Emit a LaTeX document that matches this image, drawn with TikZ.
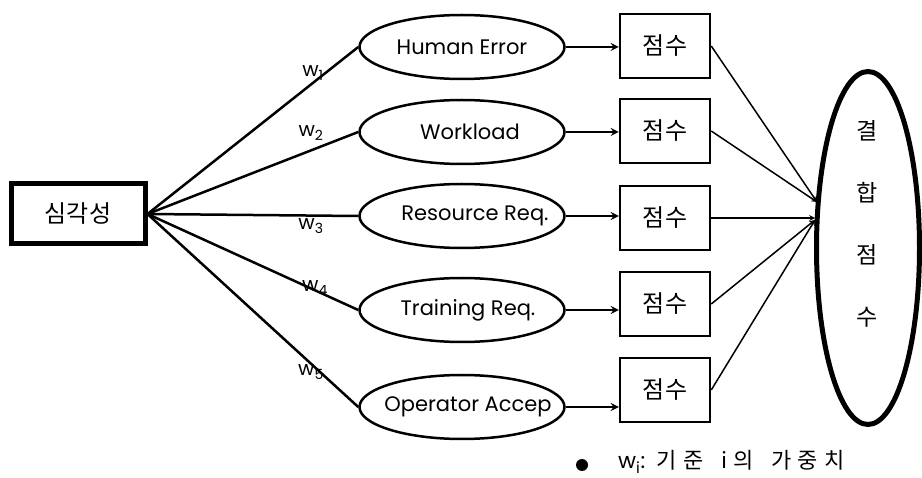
\documentclass[tikz,border=0pt]{standalone}
\usepackage{fontspec}
\setmainfont{Poppins}
\newfontfamily\kor{Noto Sans CJK KR}
\newfontfamily\korsp[LetterSpace=28,WordSpace=1.6]{Noto Sans CJK KR}
\usetikzlibrary{shapes.geometric}

\begin{document}
\begin{tikzpicture}[x=1pt,y=-1pt,
		crit/.style={draw,ellipse,line width=2.5pt,minimum width=205pt,minimum height=64pt,inner sep=0pt,font=\fontsize{21}{25}\selectfont},
		score/.style={draw,line width=2.5pt,minimum width=90pt,minimum height=64pt,inner sep=0pt,font=\kor\fontsize{24}{28}\selectfont},
		wlab/.style={inner sep=0pt,font=\fontsize{20}{24}\selectfont},
		link/.style={line width=2.5pt},
		sarrow/.style={line width=2.5pt,-stealth},
		carrow/.style={line width=1.5pt,-stealth}]
		\useasboundingbox (0,0) rectangle (922,478);
		\node[draw,line width=5pt,minimum width=134pt,minimum height=60pt,font=\kor\fontsize{24}{28}\selectfont] (sim) at (78,214) {심각성};
		\node[crit] (he) at (462,47) {\makebox[0pt]{Human Error}};
		\node[crit] (wl) at (462,132) {\makebox[0pt]{\hspace{16pt}Workload}};
		\node[crit] (rr) at (462,216) {\makebox[0pt]{\hspace{26pt}Resource Req.}};
		\node[crit] (tr) at (462,310) {\makebox[0pt]{\hspace{12pt}Training Req.}};
		\node[crit] (oa) at (462,407) {\makebox[0pt]{\hspace{12pt}Operator Accep}};
		\node[score] (s1) at (665,46) {점수};
		\node[score] (s2) at (665,131) {점수};
		\node[score] (s3) at (665,218) {점수};
		\node[score] (s4) at (665,304) {점수};
		\node[score] (s5) at (665,390) {점수};
		\node[draw,ellipse,line width=5pt,minimum width=103pt,minimum height=353pt,inner sep=0pt] (comb) at (868,248) {};
		\node[align=center,inner sep=0pt,font=\kor\fontsize{23}{27}\selectfont] (combtxt) at (867,224) {결\\[35pt]합\\[35pt]점\\[35pt]수};
		\coordinate (in1) at (817,202);
		\coordinate (in2) at (815,220);
		\draw[link] (sim.east) -- (he.west);
		\draw[link] (sim.east) -- (wl.west);
		\draw[link] (sim.east) -- (rr.west);
		\draw[link] (sim.east) -- (tr.west);
		\draw[link] (sim.east) -- (oa.west);
		\node[wlab] (w1) at (313,73) {w\textsubscript{1}};
		\node[wlab] (w2) at (311,133) {w\textsubscript{2}};
		\node[wlab] (w3) at (311,226) {w\textsubscript{3}};
		\node[wlab] (w4) at (315,288) {w\textsubscript{4}};
		\node[wlab] (w5) at (311,372) {w\textsubscript{5}};
		\draw[sarrow] (he.east) -- (he.east -| s1.west);
		\draw[sarrow] (wl.east) -- (wl.east -| s2.west);
		\draw[sarrow] (rr.east) -- (rr.east -| s3.west);
		\draw[sarrow] (tr.east) -- (tr.east -| s4.west);
		\draw[sarrow] (oa.east) -- (oa.east -| s5.west);
		\draw[carrow] (s1.east) -- (in1);
		\draw[carrow] (s2.east) -- (in1);
		\draw[carrow] (s3.east) -- (s3.east -| in2);
		\draw[carrow] (s4.east) -- (in2);
		\draw[carrow] (s5.east) -- (in2);
		\node[circle,fill,inner sep=0pt,minimum size=12pt] (dot) at (582,465) {};
		\node[anchor=west,inner sep=0pt,font=\fontsize{22}{26}\selectfont] (legend) at (618,462) {w\textsubscript{i}:\ \ {\korsp 기준 i의 가중치}};
	\end{tikzpicture}
\end{document}
